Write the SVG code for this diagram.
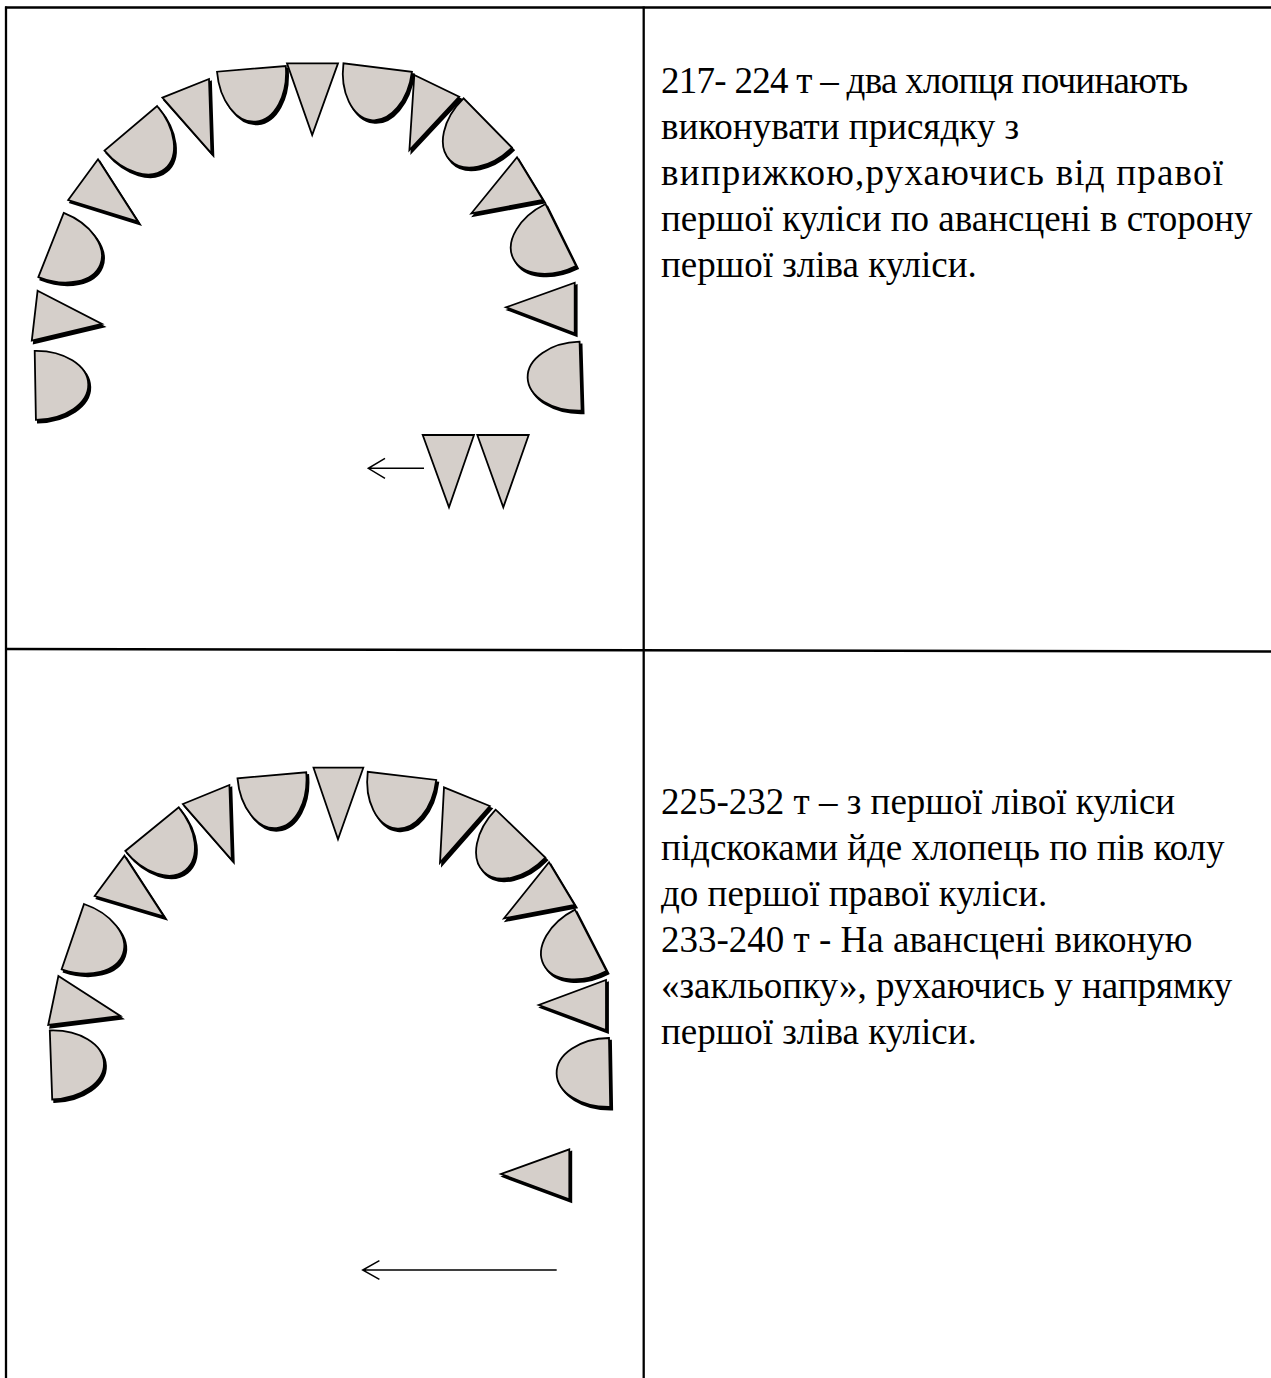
<svg xmlns="http://www.w3.org/2000/svg" xmlns:xlink="http://www.w3.org/1999/xlink" width="1271" height="1378" viewBox="0 0 1271 1378">
<style>
.sh{fill:#000;stroke:#000;stroke-width:1.8}
.f{fill:#d5cfca;stroke:#000;stroke-width:1.8;stroke-linejoin:miter}
.grid{stroke:#000;stroke-width:2.3;fill:none}
.arr{stroke:#000;stroke-width:1.5;fill:none}
.t{font-family:"Liberation Serif","Times New Roman",serif;font-size:37px;fill:#000;white-space:pre}
</style>
<defs>
<path id="hd" d="M -34.5 0 A 34.5 53 0 0 0 34.5 0 Z"/>
</defs>
<rect width="1271" height="1378" fill="#fff"/>
<g id="grid">
<path class="grid" d="M5 7.5 H1271"/>
<path class="grid" d="M6 6.5 V1378"/>
<path class="grid" d="M643.7 6.5 V1378"/>
<path class="grid" d="M5 649 L1271 651.5"/>
</g>
<g id="panel1">
<g id="p1s1"><use href="#hd" class="sh" transform="translate(37.3 388) rotate(-91)"/><use href="#hd" class="f" transform="translate(35.3 385.4) rotate(-91)"/></g>
<g id="p1s2"><polygon class="sh" transform="translate(2 2.6)" points="37.6,290.7 102,324 31.8,340.7"/><polygon class="f" points="37.6,290.7 102,324 31.8,340.7"/></g>
<g id="p1s3"><use href="#hd" class="sh" transform="translate(53.05 247.6) rotate(-68.4)"/><use href="#hd" class="f" transform="translate(51.05 245) rotate(-68.4)"/></g>
<g id="p1s4"><polygon class="sh" transform="translate(2 2.6)" points="98,159.3 138,221.7 68.2,200"/><polygon class="f" points="98,159.3 138,221.7 68.2,200"/></g>
<g id="p1s5"><use href="#hd" class="sh" transform="translate(132.8 130.95) rotate(-40.3)"/><use href="#hd" class="f" transform="translate(130.8 128.35) rotate(-40.3)"/></g>
<g id="p1s6"><polygon class="sh" transform="translate(2 2.6)" points="162.4,97.7 209,79 211.4,153.3"/><polygon class="f" points="162.4,97.7 209,79 211.4,153.3"/></g>
<g id="p1s7"><use href="#hd" class="sh" transform="translate(253.4 71.45) rotate(-4.75)"/><use href="#hd" class="f" transform="translate(251.4 68.85) rotate(-4.75)"/></g>
<g id="p1s8"><polygon class="f" points="287,63.3 338,63.3 312.2,135"/></g>
<g id="p1s9"><use href="#hd" class="sh" transform="translate(379.7 70.1) rotate(7.1)"/><use href="#hd" class="f" transform="translate(377.7 67.5) rotate(7.1)"/></g>
<g id="p1s10"><polygon class="sh" transform="translate(2 2.6)" points="414.3,75 459.2,96.7 409.4,150"/><polygon class="f" points="414.3,75 459.2,96.7 409.4,150"/></g>
<g id="p1s11"><use href="#hd" class="sh" transform="translate(489.75 125.6) rotate(45.5)"/><use href="#hd" class="f" transform="translate(487.75 123) rotate(45.5)"/></g>
<g id="p1s12"><polygon class="sh" transform="translate(2 2.6)" points="517,157.3 543,200 471.4,213.3"/><polygon class="f" points="517,157.3 543,200 471.4,213.3"/></g>
<g id="p1s13"><use href="#hd" class="sh" transform="translate(562.75 237.6) rotate(63.8)"/><use href="#hd" class="f" transform="translate(560.75 235) rotate(63.8)"/></g>
<g id="p1s14"><polygon class="sh" transform="translate(2 2.6)" points="574.7,282.7 574.7,333.3 506,307.3"/><polygon class="f" points="574.7,282.7 574.7,333.3 506,307.3"/></g>
<g id="p1s15"><use href="#hd" class="sh" transform="translate(582.6 378.8) rotate(88.3)"/><use href="#hd" class="f" transform="translate(580.6 376.2) rotate(88.3)"/></g>
<g id="p1m1"><polygon class="f" points="422.7,435 474,435 449,507.3"/></g>
<g id="p1m2"><polygon class="f" points="477.3,435 528.7,435 503.3,507.3"/></g>
</g>
<g id="panel2">
<g id="p2s1"><use href="#hd" class="sh" transform="translate(53 1067.6) rotate(-92)"/><use href="#hd" class="f" transform="translate(51 1065) rotate(-92)"/></g>
<g id="p2s2"><polygon class="sh" transform="translate(2 2.6)" points="58.4,976 120.4,1016 48.2,1025"/><polygon class="f" points="58.4,976 120.4,1016 48.2,1025"/></g>
<g id="p2s3"><use href="#hd" class="sh" transform="translate(74.85 939.25) rotate(-71.1)"/><use href="#hd" class="f" transform="translate(72.85 936.65) rotate(-71.1)"/></g>
<g id="p2s4"><polygon class="sh" transform="translate(2 2.6)" points="124.5,855.7 164.1,916.7 94.7,896"/><polygon class="f" points="124.5,855.7 164.1,916.7 94.7,896"/></g>
<g id="p2s5"><use href="#hd" class="sh" transform="translate(154.05 831.75) rotate(-39.2)"/><use href="#hd" class="f" transform="translate(152.05 829.15) rotate(-39.2)"/></g>
<g id="p2s6"><polygon class="sh" transform="translate(2 2.6)" points="182.9,804 229.4,785 231.8,860"/><polygon class="f" points="182.9,804 229.4,785 231.8,860"/></g>
<g id="p2s7"><use href="#hd" class="sh" transform="translate(273.85 777.9) rotate(-5)"/><use href="#hd" class="f" transform="translate(271.85 775.3) rotate(-5)"/></g>
<g id="p2s8"><polygon class="f" points="313.5,767.7 363.3,767.7 338,839.3"/></g>
<g id="p2s9"><use href="#hd" class="sh" transform="translate(404 778.45) rotate(6.8)"/><use href="#hd" class="f" transform="translate(402 775.85) rotate(6.8)"/></g>
<g id="p2s10"><polygon class="sh" transform="translate(2 2.6)" points="444,787.3 489.8,806 440,862.7"/><polygon class="f" points="444,787.3 489.8,806 440,862.7"/></g>
<g id="p2s11"><use href="#hd" class="sh" transform="translate(522.5 836.25) rotate(44)"/><use href="#hd" class="f" transform="translate(520.5 833.65) rotate(44)"/></g>
<g id="p2s12"><polygon class="sh" transform="translate(2 2.6)" points="549,862.3 574.7,905 504,918.3"/><polygon class="f" points="549,862.3 574.7,905 504,918.3"/></g>
<g id="p2s13"><use href="#hd" class="sh" transform="translate(592.75 942.95) rotate(62.8)"/><use href="#hd" class="f" transform="translate(590.75 940.35) rotate(62.8)"/></g>
<g id="p2s14"><polygon class="sh" transform="translate(2 2.6)" points="606,980 606,1030 538.8,1005"/><polygon class="f" points="606,980 606,1030 538.8,1005"/></g>
<g id="p2s15"><use href="#hd" class="sh" transform="translate(611.6 1075.1) rotate(89)"/><use href="#hd" class="f" transform="translate(609.6 1072.5) rotate(89)"/></g>
<g id="p2m1"><polygon class="sh" transform="translate(2 2.6)" points="569.3,1149.3 569.3,1199.3 501,1174"/><polygon class="f" points="569.3,1149.3 569.3,1199.3 501,1174"/></g>
</g>
<g id="connectors">
<path class="arr" d="M424 468.3 H368.3 M385 458.3 L368.3 468.3 L385 478.3"/>
<path class="arr" d="M556.7 1270 H362.7 M379.4 1260.7 L362.7 1270 L379.4 1279.3"/>
</g>
<g id="text1" class="t">
<text x="661" y="93" textLength="527" lengthAdjust="spacing">217- 224 т – два хлопця починають</text>
<text x="661" y="139">виконувати присядку з</text>
<text x="661" y="185" textLength="562" lengthAdjust="spacing">виприжкою,рухаючись від правої</text>
<text x="661" y="231">першої куліси по авансцені в сторону</text>
<text x="661" y="277">першої зліва куліси.</text>
</g>
<g id="text2" class="t">
<text x="661" y="814">225-232 т – з першої лівої куліси</text>
<text x="661" y="860">підскоками йде хлопець по пів колу</text>
<text x="661" y="906">до першої правої куліси.</text>
<text x="661" y="952">233-240 т -  На авансцені виконую</text>
<text x="661" y="998">«закльопку», рухаючись у напрямку</text>
<text x="661" y="1044">першої зліва куліси.</text>
</g>
</svg>
